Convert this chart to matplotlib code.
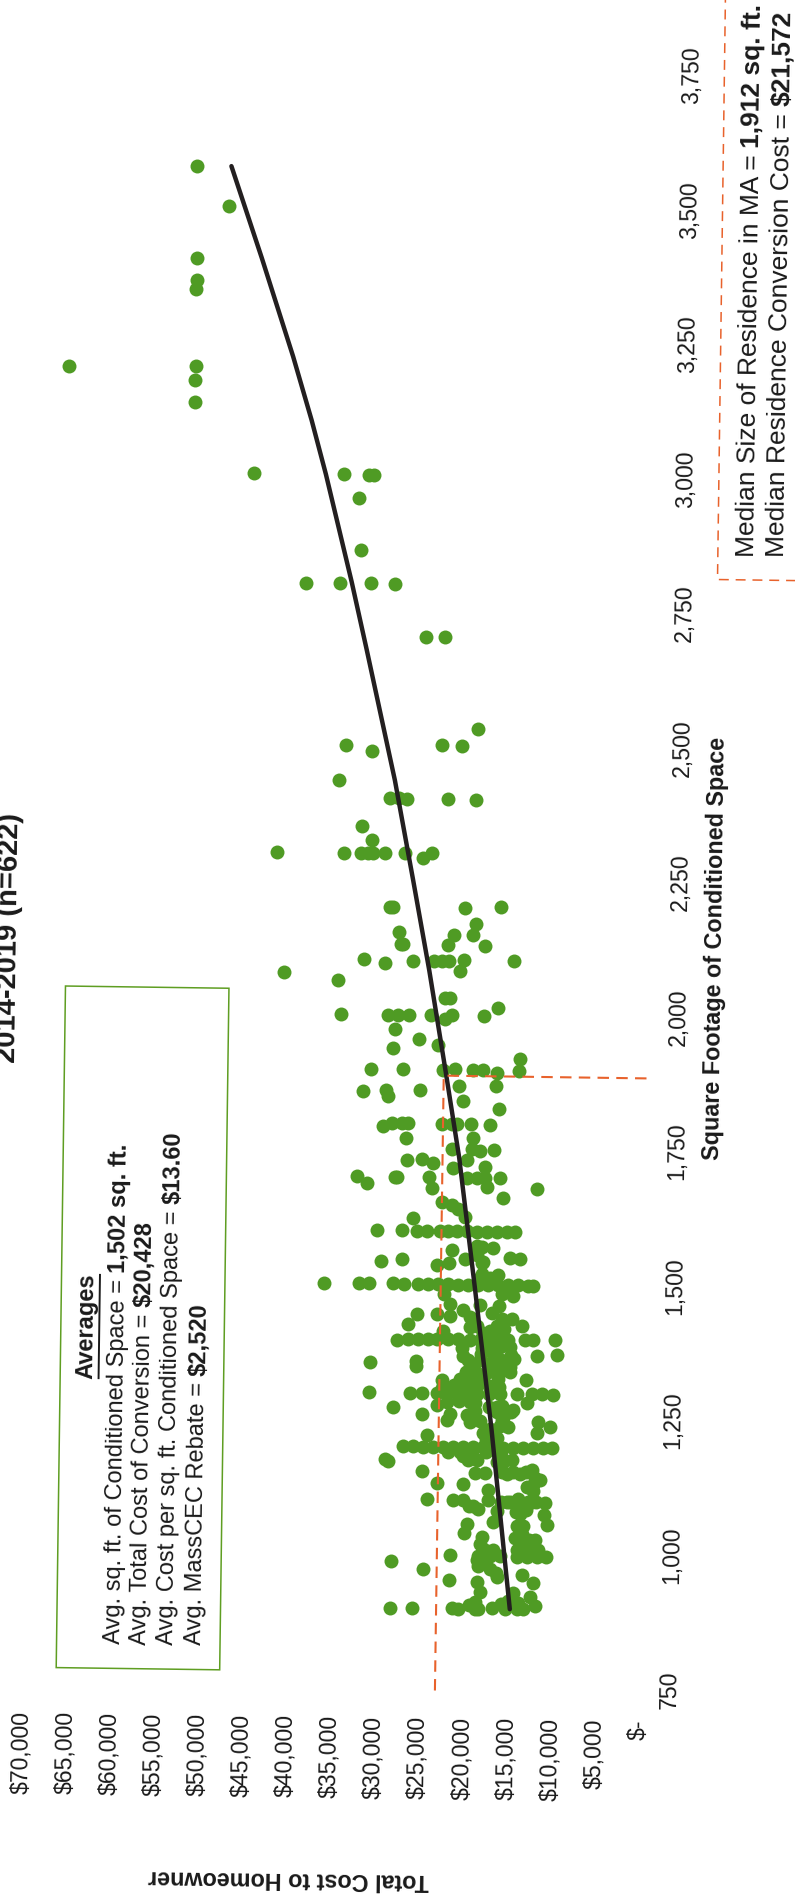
"""
Scanned scatter of heat pump conversion cost vs. conditioned space.
The page sits on its side and slightly crooked, so everything goes through a small rotation.
"""

import matplotlib
matplotlib.use('Agg')
import matplotlib.pyplot as plt
from matplotlib.font_manager import FontProperties
from matplotlib.patches import Rectangle
from matplotlib.transforms import Affine2D

plt.rcParams['font.family'] = ['Liberation Sans', 'DejaVu Sans']

# Data
sqft = [
    3569, 3496, 3398, 3358, 3341, 3195, 3197, 3172, 3130, 3000, 3000, 3000, 3000, 2956, 2860,
    2798, 2798, 2798, 2798, 2700, 2700,
    2497, 2486, 2499, 2499, 2531, 2432, 2399, 2399, 2399, 2399, 2399, 2347, 2321,
    2297, 2297, 2297, 2297, 2297, 2297, 2297, 2289, 2299,
    2198, 2198, 2198, 2200, 2151, 2129, 2129, 2147, 2167, 2148, 2127, 2127,
    2099, 2093, 2098, 2098, 2098, 2098, 2101, 2079, 2099, 2073, 2061,
    2029, 2029, 2013, 1997, 1997, 1997, 1997, 1997, 1990, 1997, 1997,
    1970, 1952, 1935, 1942, 1896, 1897, 1895, 1897, 1896, 1896, 1892, 1917, 1896,
    1855, 1857, 1845, 1857, 1866, 1868, 1838, 1824,
    1790, 1796, 1796, 1796, 1795, 1795, 1795, 1795, 1795, 1768, 1769,
    1748, 1750, 1746, 1748, 1727, 1730, 1723, 1728, 1713, 1717,
    1697, 1684, 1695, 1695, 1696, 1696, 1696, 1696, 1696, 1675, 1680, 1677, 1660,
    1650, 1645, 1638, 1623, 1619,
    1596, 1597, 1596, 1596, 1596, 1596, 1596, 1596, 1596, 1596, 1596, 1596, 1596,
    1562, 1568, 1565, 1547, 1547, 1538, 1544, 1532, 1537, 1544, 1537, 1516,
    1496, 1497, 1497, 1499, 1497,
    1497, 1497, 1497, 1497, 1497, 1497, 1497, 1497, 1497, 1497, 1497, 1497, 1497,
    1480, 1478, 1480, 1461, 1459, 1459,
    1441, 1441, 1438, 1449, 1438, 1445, 1435, 1435, 1422, 1422, 1411, 1411, 1405,
    1393, 1395, 1395, 1395, 1395, 1395, 1395, 1395, 1395, 1395, 1395, 1395, 1396, 1396, 1396,
    1365, 1382, 1380, 1368, 1366, 1351, 1354, 1345,
    1358, 1358, 1358, 1358, 1345, 1345, 1345, 1345,
    1319, 1322, 1322, 1322, 1322, 1322, 1295, 1295, 1295,
    1295, 1295, 1295, 1295, 1295, 1295, 1295, 1295, 1295, 1295, 1295,
    1280, 1278, 1278, 1272, 1272, 1268,
    1255, 1245, 1257, 1255, 1242, 1244, 1250, 1234, 1236, 1244, 1235, 1223, 1217, 1222,
    1195, 1195, 1195, 1195, 1195, 1195, 1195, 1195, 1195, 1195, 1195, 1195, 1195, 1195, 1195, 1195,
    1171, 1167, 1186, 1171, 1171, 1173, 1167,
    1149, 1147, 1147, 1147, 1147, 1155, 1135, 1127, 1127, 1116, 1116,
    1097, 1096, 1097, 1086, 1080, 1097, 1094, 1100, 1085, 1094, 1094,
    1077, 1056, 1073, 1071, 1052, 1053, 1035, 1050, 1050, 1035,
    1029, 1016, 1024, 1021,
    995, 993, 1005, 993, 993, 993, 993, 993, 993, 981, 968,
    975, 970, 947, 945, 955, 958, 945, 926, 926, 918,
    895, 895, 895, 895, 902, 895, 895, 897, 895, 895, 895, 902, 905,
    # overplotted core of the cloud
    1380, 1382, 1382, 1368, 1366, 1368, 1358, 1360,
    1335, 1335, 1335, 1335, 1335, 1307, 1307, 1307,
    1418, 1421, 1421, 1407, 1415, 1552, 1570, 1540, 1517, 1510, 1510,
    1278, 1270, 1270, 1265, 1305, 1280,
    1005, 1005, 1005, 1005, 1005, 1028, 1025,
    1094, 1094, 1094, 1094, 1075, 1080, 1086, 1127, 1122,
    1150, 1150, 1150, 1140, 1230, 1212, 1246, 1208, 1168, 1168, 1179,
    907, 910, 907,
    1310, 1310, 1310, 1262, 1262, 1262, 1186, 1186, 1186, 1180, 962, 985, 985,
]
cost = [
    52440, 48760, 52360, 52330, 52370, 66680, 52310, 52350, 52370, 45540, 35360, 32490, 31910, 33600, 33290,
    39500, 35620, 32140, 29440, 25800, 23670,
    34650, 31720, 23790, 21550, 19720, 35410, 29630, 28650, 27680, 23020, 19860, 32800, 31600,
    42370, 34770, 32880, 32010, 31440, 30120, 27820, 25800, 24830,
    29460, 29060, 20900, 16860, 28450, 28150, 27870, 22130, 19630, 20050, 22850, 18650,
    32320, 29950, 26730, 24380, 23520, 22660, 20930, 21370, 15350, 41430, 35220,
    23060, 22480, 17090, 34820, 29480, 28330, 27180, 24590, 23000, 22280, 18640,
    28700, 25960, 28940, 23760, 31360, 27700, 23150, 21830, 19800, 18660, 17100, 14470, 14530,
    32240, 29660, 29350, 25770, 21400, 17150, 20830, 16780,
    29880, 28940, 27800, 27040, 23260, 22120, 21480, 19950, 17770, 27330, 19650,
    22080, 19820, 18870, 17280, 27180, 25480, 24220, 20370, 21870, 18280,
    32750, 31680, 28210, 28480, 24580, 20340, 19200, 18280, 16570, 24290, 18050, 12380, 16220,
    23140, 22000, 21230, 20470, 26330,
    30475, 27640, 25900, 24800, 23320, 22370, 21400, 20260, 19130, 18000, 16860, 15730, 14790,
    21940, 18500, 17200, 15300, 14170, 29890, 27520, 23600, 22180, 20410, 18520, 16600,
    36370, 32400, 31270, 28500, 27250,
    25660, 24520, 23390, 22250, 21120, 19980, 18850, 17700, 16580, 15450, 14300, 13170, 12600,
    22700, 14870, 16110, 21980, 16500, 18640,
    23540, 25730, 22020, 20520, 19770, 17300, 16160, 15030, 13880, 26740, 22760, 17470, 16160,
    27970, 26710, 25580, 24450, 23500, 22180, 21040, 19750, 18610, 17470, 16340, 15370, 13480, 12540, 10070,
    20450, 15170, 18300, 9850, 12060, 31030, 25800, 25800,
    19880, 18600, 17040, 15340, 19660, 17400, 15890, 15140,
    22770, 20800, 19280, 18120, 16420, 13300, 31060, 26450, 25050,
    23400, 22260, 21100, 19950, 18800, 17450, 16230, 14340, 12630, 11500, 10190,
    19600, 22260, 13200, 15950, 23400, 28390,
    25080, 22240, 21870, 19970, 19600, 18450, 15830, 15230, 16200, 11830, 10500, 11980, 24480, 18050,
    27110, 25980, 24840, 23710, 22570, 21440, 20300, 19170, 18030, 16900, 15770, 14630, 13500, 12360, 11230, 10280,
    29170, 28790, 21990, 19700, 18750, 14800, 16000,
    25000, 18940, 17820, 15350, 13840, 12530, 11550, 23280, 20320, 17400, 12300,
    24390, 21440, 20230, 19080, 18500, 17400, 15300, 13970, 13780, 12460, 10960,
    16420, 16780, 13770, 11090, 10720, 19800, 20060, 14130, 13380, 13560,
    18000, 18270, 12050, 13750,
    21650, 18450, 17700, 17100, 15950, 14100, 12950, 11800, 10700, 28340, 24730,
    18430, 17100, 21700, 18580, 16320, 13480, 12150, 18200, 14400, 12520,
    28370, 25840, 21380, 20620, 19440, 18730, 18350, 16840, 15330, 14000, 13250, 11920, 15800,
    # overplotted core of the cloud
    20660, 17440, 16300, 18400, 16950, 15000, 16200, 14700,
    20060, 18950, 17600, 16300, 15100, 20400, 18950, 16300,
    19700, 18950, 16700, 18300, 15900, 19100, 19100, 18400, 18500, 18700, 17500,
    19000, 17500, 16500, 14700, 22800, 20900,
    17880, 16740, 14100, 12780, 11640, 14300, 12760,
    15990, 14900, 12900, 12000, 14200, 13060, 19600, 12300, 13000,
    15900, 14650, 13200, 12100, 17300, 16540, 15990, 17700, 16500, 15750, 20290,
    18750, 15000, 13900,
    21500, 19500, 17500, 19000, 16500, 15000, 20660, 19360, 17700, 16000, 16380, 17500, 18600,
]

trend_sqft = [895, 1234, 1494, 1733, 1894, 2080, 2250, 2433, 2675, 2800, 3000, 3100, 3218, 3400, 3570]
trend_cost = [14780, 17170, 19260, 21220, 22900, 24900, 26900, 29100, 32500, 34300, 37400, 39100, 41300, 45000, 48590]

median_sqft_line = [742, 1885, 1885]
median_cost_line = [23150, 23100, -500]

cost_ticks = [0, 5000, 10000, 15000, 20000, 25000, 30000, 35000, 40000, 45000, 50000, 55000, 60000, 65000, 70000]
cost_labels = ['$-', '$5,000', '$10,000', '$15,000', '$20,000', '$25,000', '$30,000', '$35,000',
               '$40,000', '$45,000', '$50,000', '$55,000', '$60,000', '$65,000', '$70,000']
sqft_ticks = [750, 1000, 1250, 1500, 1750, 2000, 2250, 2500, 2750, 3000, 3250, 3500, 3750]
sqft_labels = ['750', '1,000', '1,250', '1,500', '1,750', '2,000', '2,250', '2,500', '2,750',
               '3,000', '3,250', '3,500', '3,750']

averages_plain = ['Avg. sq. ft. of Conditioned Space = ', 'Avg. Total Cost of Conversion = ',
                  'Avg. Cost per sq. ft. Conditioned Space = ', 'Avg. MassCEC Rebate = ']
averages_bold = ['1,502 sq. ft.', '$20,428', '$13.60', '$2,520']

GREEN = '#4f9b24'
BOX_GREEN = '#5f9e22'
RED = '#e8622c'
INK = '#1a1a1a'
TILT = 0.78
TEXT_UP = 90 - TILT

fig = plt.figure(figsize=(7.95, 18.97), dpi=100, facecolor='white')
ax = fig.add_axes([0, 178 / 1897, 658 / 795, (1897 - 178) / 1897])
ax.set_xlim(72499, -2156)
ax.set_ylim(694.2, 3889.4)
for spine in ax.spines.values():
    spine.set_visible(False)
ax.patch.set_visible(False)

# the scan is a bit crooked
rot = Affine2D().rotate_deg_around(639, 208, -TILT)
T = ax.transData + rot
SQFT_PER_PX = (3889.4 - 694.2) / (1897 - 178)


def mixed_line(line_cost, line_sqft, plain, bold, size):
    """Plain text followed by bold text on one baseline, running up the page"""
    renderer = fig.canvas.get_renderer()
    font = FontProperties(family='Liberation Sans', size=size)
    # trailing spaces do not count on their own, so measure against a closing x
    with_x = renderer.get_text_width_height_descent(plain + 'x', font, False)[0]
    only_x = renderer.get_text_width_height_descent('x', font, False)[0]
    offset = (with_x - only_x) * SQFT_PER_PX
    ax.text(line_cost, line_sqft, plain, fontsize=size, rotation=TEXT_UP, rotation_mode='anchor',
            ha='left', va='baseline', transform=T, color=INK)
    ax.text(line_cost, line_sqft + offset, bold, fontsize=size, fontweight='bold', rotation=TEXT_UP,
            rotation_mode='anchor', ha='left', va='baseline', transform=T, color=INK)


ax.yaxis.tick_right()
ax.set_xticks(cost_ticks, cost_labels)
ax.set_yticks(sqft_ticks, sqft_labels)
ax.tick_params(axis='x', length=0, pad=0, labelsize=16.6, labelrotation=TEXT_UP, colors=INK)
ax.tick_params(axis='y', length=0, pad=0, labelsize=16.6, labelrotation=TEXT_UP, colors=INK)
for tick in ax.xaxis.get_major_ticks():
    tick.label1.set_transform(tick.label1.get_transform() + rot)
for tick in ax.yaxis.get_major_ticks():
    tick.label2.set_transform(tick.label2.get_transform() + rot)
    tick.label2.set_va('center')

ax.scatter(cost, sqft, s=101, color=GREEN, linewidths=0, transform=T, clip_on=False, zorder=2)
ax.plot(trend_cost, trend_sqft, color='#231f20', lw=3.2, transform=T, clip_on=False, zorder=4,
        solid_capstyle='round', solid_joinstyle='round')
ax.plot(median_cost_line, median_sqft_line, color=RED, lw=1.5, dashes=(5.5, 3.5), transform=T,
        clip_on=False, zorder=5)

# median box runs off the page on the right
ax.plot([-20000, -7193, -7193], [2814, 2814, 3950], color=RED, lw=1.1, dashes=(6.5, 4.5),
        transform=T, clip_on=False)

ax.add_patch(Rectangle((47600, 775), 66150 - 47600, 2042 - 775, fill=False, edgecolor=BOX_GREEN,
                       lw=1.1, transform=T, clip_on=False, zorder=3))
ax.text(63190, 1411, 'Averages', fontsize=17, fontweight='bold', rotation=TEXT_UP, rotation_mode='anchor',
        ha='center', va='center', transform=T, color=INK)
ax.plot([61790, 61790], [1314, 1506], color=INK, lw=1.4, transform=T, clip_on=False)
for plain, bold, line_cost in zip(averages_plain, averages_bold, [58920, 56025, 52905, 49730]):
    mixed_line(line_cost, 820, plain, bold, 17)

mixed_line(-11244, 2856, 'Median Size of Residence in MA = ', '1,912 sq. ft.', 19)
mixed_line(-14693, 2857, 'Median Residence Conversion Cost = ', '$21,572', 19)

ax.text(72690, 2130, '2014-2019 (n=622)', fontsize=21, fontweight='bold', rotation=TEXT_UP,
        rotation_mode='anchor', ha='center', va='center', transform=T, color=INK)
ax.text(-7490, 2129, 'Square Footage of Conditioned Space', fontsize=16.8, fontweight='bold',
        rotation=TEXT_UP, rotation_mode='anchor', ha='center', va='center', transform=T, color=INK)
ax.text(39415, 388, 'Total Cost to Homeowner', fontsize=16.8, fontweight='bold', rotation=180 - TILT,
        rotation_mode='anchor', ha='center', va='center', transform=T, color=INK)

fig.savefig('out.png', dpi=100)
plt.close(fig)
